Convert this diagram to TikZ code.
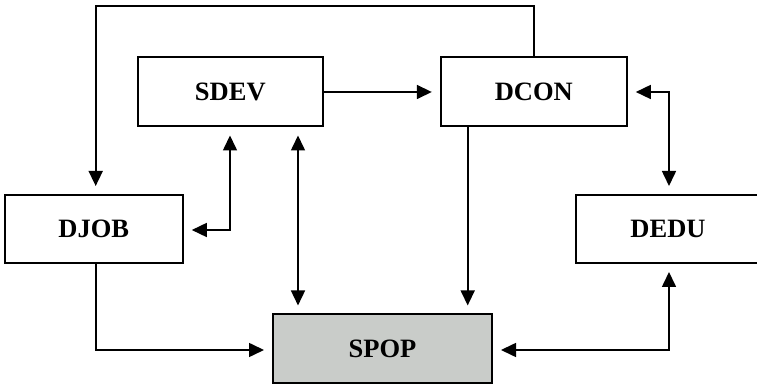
\documentclass[tikz,border=0pt]{standalone}
\usepackage{fontspec}
\setmainfont{Liberation Serif}
\usetikzlibrary{arrows.meta}
\definecolor{boxgray}{RGB}{201,204,201}
\begin{document}
\begin{tikzpicture}[x=1pt,y=1pt,
  box/.style={draw,line width=2pt,rectangle,minimum height=69pt,inner sep=0pt,
    font=\fontsize{26.5}{30}\selectfont\bfseries},
  conn/.style={line width=1.6pt},
  tip/.tip={Triangle[length=15pt,width=14pt]},
  arr/.style={conn,-tip,shorten >=8pt},
  barr/.style={conn,tip-tip,shorten >=8pt,shorten <=8pt}]
\useasboundingbox (0,0) rectangle (757,387);
\clip (0,0) rectangle (757,387);
\node[box,minimum width=185pt] (SDEV) at (230.3,295) {SDEV};
\node[box,minimum width=186pt] (DCON) at (533.8,295) {DCON};
\node[box,minimum width=178pt,minimum height=68pt] (DJOB) at (93.8,158) {DJOB};
\node[box,minimum width=184pt,minimum height=68pt] (DEDU) at (668,158) {DEDU};
\node[box,fill=boxgray,minimum width=219pt,minimum height=68.5pt] (SPOP) at (382.5,38.3) {SPOP};
\coordinate (topR) at (534,381);
\coordinate (topL) at (95.7,381);
\coordinate (xA) at (230,0);
\coordinate (xB) at (298,0);
\coordinate (xC) at (467.7,0);
\coordinate (xD) at (669,0);
\coordinate (yA) at (0,157);
\coordinate (yB) at (0,37);
% DCON -> DJOB over the top
\draw[arr] (DCON.north -| topR) |- (topL) -- (DJOB.north -| topL);
% SDEV -> DCON
\draw[arr] (SDEV.east) -- (DCON.west);
% SDEV <-> DJOB
\draw[barr] (SDEV.south -| xA) |- (DJOB.east |- yA);
% SDEV <-> SPOP
\draw[barr] (SDEV.south -| xB) -- (SPOP.north -| xB);
% DCON -> SPOP
\draw[arr] (DCON.south -| xC) -- (SPOP.north -| xC);
% DCON <-> DEDU
\draw[barr] (DCON.east) -| (DEDU.north -| xD);
% DJOB -> SPOP
\draw[arr] (DJOB.south -| topL) |- (SPOP.west |- yB);
% DEDU <-> SPOP
\draw[barr] (DEDU.south -| xD) |- (SPOP.east |- yB);
\end{tikzpicture}
\end{document}
